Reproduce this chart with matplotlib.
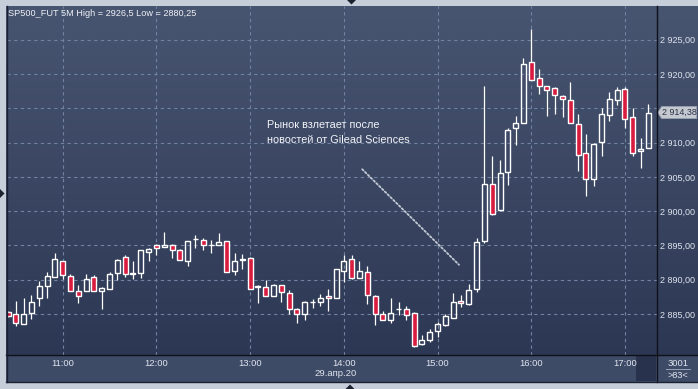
import numpy as np
import pandas as pd
import matplotlib
matplotlib.use("Agg")
import matplotlib.pyplot as plt
from matplotlib.patches import Rectangle, Polygon
from matplotlib.colors import LinearSegmentedColormap
from matplotlib.ticker import FuncFormatter
from matplotlib.transforms import blended_transform_factory

plt.rcParams['font.family'] = ['Liberation Sans', 'DejaVu Sans']

# ---------------- data ----------------
times = pd.date_range("2020-04-29 10:25", periods=83, freq="5min").strftime("%H:%M").tolist()

opens = [2885.3, 2884.95, 2883.5, 2885.1, 2887.4, 2889.1, 2890.4, 2892.7, 2890.6, 2888.4,
         2888.4, 2890.4, 2888.3, 2888.7, 2891.0, 2893.3, 2890.85, 2891.0, 2894.0, 2895.1,
         2894.8, 2895.1, 2894.4, 2892.7, 2895.9, 2895.8, 2895.0, 2895.1, 2895.6, 2891.3,
         2892.9, 2893.2, 2888.9, 2889.0, 2887.6, 2889.2, 2888.0, 2885.8, 2884.95, 2886.7,
         2886.7, 2887.65, 2887.3, 2891.3, 2893.1, 2890.3, 2891.2, 2887.7, 2884.95, 2884.2,
         2885.7, 2885.8, 2885.2, 2880.6, 2881.25, 2882.5, 2883.4, 2884.4, 2886.85, 2886.45,
         2888.65, 2895.6, 2903.9, 2900.15, 2905.75, 2912.1, 2912.9, 2921.8, 2919.35, 2918.2,
         2917.9, 2916.85, 2916.2, 2912.75, 2908.5, 2904.75, 2910.15, 2914.05, 2916.15, 2917.75,
         2913.8, 2908.8, 2909.25]
highs = [2885.5, 2886.9, 2887.4, 2887.75, 2889.8, 2891.1, 2893.9, 2892.8, 2890.9, 2889.2,
         2890.9, 2890.75, 2888.9, 2891.1, 2893.1, 2893.65, 2892.8, 2894.4, 2894.6, 2895.2,
         2896.9, 2895.2, 2894.5, 2895.7, 2896.6, 2896.1, 2895.8, 2896.8, 2895.7, 2893.9,
         2893.7, 2893.3, 2889.2, 2890.0, 2889.45, 2889.2, 2888.5, 2885.9, 2886.9, 2887.2,
         2887.9, 2888.7, 2891.5, 2893.6, 2893.6, 2892.8, 2892.0, 2887.8, 2885.5, 2887.4,
         2886.7, 2886.2, 2885.3, 2881.9, 2882.8, 2883.9, 2885.0, 2888.05, 2887.8, 2889.4,
         2896.1, 2918.2, 2908.1, 2907.5, 2912.2, 2913.9, 2922.3, 2926.5, 2920.8, 2918.3,
         2918.05, 2916.9, 2918.85, 2914.1, 2911.2, 2909.9, 2915.0, 2917.4, 2918.05, 2918.05,
         2915.0, 2910.6, 2915.6]
lows = [2884.6, 2883.2, 2883.5, 2884.3, 2886.2, 2887.4, 2890.4, 2890.1, 2888.3, 2886.6,
        2888.4, 2888.3, 2885.8, 2888.7, 2890.0, 2890.4, 2890.1, 2890.3, 2892.8, 2893.65,
        2894.8, 2893.2, 2892.9, 2892.0, 2894.7, 2894.4, 2893.9, 2895.1, 2891.2, 2890.65,
        2891.5, 2888.7, 2886.55, 2887.6, 2887.6, 2886.8, 2884.95, 2883.65, 2884.2, 2885.9,
        2886.2, 2885.5, 2887.3, 2889.7, 2890.1, 2890.3, 2886.4, 2883.36, 2884.1, 2883.65,
        2884.9, 2884.2, 2880.25, 2880.5, 2880.9, 2881.7, 2883.3, 2884.4, 2886.1, 2886.3,
        2888.15, 2895.4, 2899.5, 2900.1, 2903.8, 2909.65, 2912.9, 2919.1, 2917.1, 2913.9,
        2914.1, 2913.75, 2912.8, 2905.85, 2902.2, 2903.65, 2908.05, 2913.15, 2915.45, 2912.1,
        2908.0, 2906.35, 2909.25]
closes = [2884.7, 2883.65, 2884.95, 2886.7, 2889.15, 2890.6, 2893.0, 2890.75, 2888.4, 2887.6,
          2890.1, 2888.3, 2888.8, 2890.9, 2892.9, 2890.9, 2890.95, 2894.3, 2894.5, 2894.7,
          2895.1, 2894.4, 2892.9, 2895.6, 2896.0, 2895.1, 2895.1, 2895.5, 2891.2, 2892.7,
          2893.0, 2888.7, 2889.1, 2887.7, 2889.3, 2888.2, 2885.8, 2884.95, 2886.8, 2886.8,
          2887.4, 2887.4, 2891.5, 2892.8, 2890.2, 2891.3, 2887.85, 2884.95, 2884.2, 2885.2,
          2885.8, 2884.9, 2880.4, 2881.2, 2882.45, 2883.6, 2884.65, 2886.75, 2886.6, 2888.45,
          2895.5, 2903.9, 2899.6, 2905.5, 2911.9, 2912.9, 2921.5, 2919.2, 2918.3, 2917.65,
          2917.0, 2916.3, 2912.9, 2908.25, 2904.75, 2909.85, 2914.1, 2916.3, 2917.65, 2913.5,
          2908.55, 2909.1, 2914.38]

hour_labels = ["11:00", "12:00", "13:00", "14:00", "15:00", "16:00", "17:00"]
price_ticks = [2885, 2890, 2895, 2900, 2905, 2910, 2915, 2920, 2925]
title_text = "SP500_FUT 5M High = 2926,5 Low = 2880,25"
note_lines = ["Рынок взлетает после", "новостей от Gilead Sciences"]
date_label = "29.апр.20"
bars_total = "3001"
bars_visible = ">83<"

# ---------------- layout ----------------
W, H = 698, 389
fig = plt.figure(figsize=(W / 100, H / 100), dpi=100)
fig.patch.set_facecolor('#c6ced9')


def px_rect(x0, y0, x1, y1):
    return [x0 / W, 1 - y1 / H, (x1 - x0) / W, (y1 - y0) / H]


def fmt_price(v):
    return f"{v:,.2f}".replace(",", " ").replace(".", ",")


# background layer (pixel coords)
bg = fig.add_axes([0, 0, 1, 1], zorder=0)
bg.set_xlim(0, W)
bg.set_ylim(H, 0)
bg.axis('off')
cmap = LinearSegmentedColormap.from_list('g', ['#485571', '#2a3551'])
grad = np.linspace(0, 1, 256)[:, None]
bg.imshow(grad, cmap=cmap, extent=(6, W, 382, 6), aspect='auto', interpolation='bilinear')
bg.add_patch(Rectangle((6, 355), W - 6, 26.5, facecolor='#3e4b67', edgecolor='none'))
bg.add_patch(Rectangle((636, 356), 19.5, 25, facecolor='#28324c', edgecolor='none'))

# main axes
ax = fig.add_axes(px_rect(7, 6, 656.7, 355), zorder=1)
ax.patch.set_alpha(0)
for s in ax.spines.values():
    s.set_visible(False)

x = np.arange(len(times))
ax.set_xlim(-0.13, 83.06)
ax.set_ylim(2879.03, 2929.92)

# grid
grid_kw = dict(color='#7282a3', lw=0.8, linestyle=(0, (3, 3)), zorder=1)
for p in price_ticks:
    ax.axhline(p, **grid_kw)
hour_idx = [times.index(h) for h in hour_labels]
for i in hour_idx:
    ax.axvline(i, **grid_kw)

# candles
red = '#d81b3e'
bw = 0.64
for i, (o, h, l, c) in enumerate(zip(opens, highs, lows, closes)):
    top, bot = max(o, c), min(o, c)
    ax.plot([i, i], [top, h], color='white', lw=0.9, zorder=2, solid_capstyle='butt')
    ax.plot([i, i], [l, bot], color='white', lw=0.9, zorder=2, solid_capstyle='butt')
    fc = red if c < o else 'none'
    ax.add_patch(Rectangle((i - bw / 2, bot), bw, max(top - bot, 0.05),
                           facecolor=fc, edgecolor='white', lw=1.0, zorder=3))

# axes ticks
ax.yaxis.tick_right()
ax.set_yticks(price_ticks)
ax.yaxis.set_major_formatter(FuncFormatter(lambda v, p: fmt_price(v)))
ax.tick_params(axis='y', length=0, pad=2.4, labelsize=6.5, labelcolor='#dfe4ee')
ax.set_xticks(hour_idx)
ax.set_xticklabels(hour_labels)
ax.tick_params(axis='x', length=0, pad=3.0, labelsize=6.8, labelcolor='#dfe4ee')
for lbl in ax.get_yticklabels():
    if lbl.get_text() == fmt_price(2915):
        lbl.set_visible(False)

# last price tag
last = closes[-1]
tr = blended_transform_factory(ax.transAxes, ax.transData)
axw = 649.7
pxp = 1.0 / 6.8375
tag = Polygon([(1.0 + 1.0 / axw, last), (1.0 + 5.0 / axw, last + 6.0 * pxp),
               (1.0 + 40.0 / axw, last + 6.0 * pxp), (1.0 + 40.0 / axw, last - 6.0 * pxp),
               (1.0 + 5.0 / axw, last - 6.0 * pxp)],
              closed=True, transform=tr, facecolor='#c3c8d1', edgecolor='#9aa1ad',
              lw=0.6, clip_on=False, zorder=5)
ax.add_patch(tag)
ax.text(1.0 + 22.5 / axw, last, fmt_price(last),
        transform=tr, ha='center', va='center', fontsize=6.4, color='#2b3140',
        clip_on=False, zorder=6)

# annotation
for k, line in enumerate(note_lines):
    fig.text(267 / W, 1 - (125.5 + 15 * k) / H, line, ha='left', va='center',
             fontsize=7.8, color='#f2f4f8')
ax.annotate("", xy=(58.0, 2891.9), xytext=(45.1, 2906.4),
            arrowprops=dict(arrowstyle='-', color='#c3c9d4', lw=1.3,
                            linestyle=(0, (1, 1.2))), zorder=4)

# title
fig.text(8 / W, 1 - 14 / H, title_text, ha='left', va='center', fontsize=6.6,
         color='#eef1f6')

# overlay decorations (pixel coords)
ov = fig.add_axes([0, 0, 1, 1], zorder=2)
ov.set_xlim(0, W)
ov.set_ylim(H, 0)
ov.axis('off')
ov.plot([656.7, 656.7], [6, 382], color='#0e1118', lw=1.0)
ov.plot([6, W], [355, 355], color='#0e1118', lw=1.0)
ov.plot([6.5, 6.5], [6, 382], color='#1b2131', lw=1.0)
ov.plot([6, W], [381.8, 381.8], color='#1b2131', lw=1.0)
ov.plot([666, 690], [369, 369], color='#9aa3b5', lw=0.7)
ov.add_patch(Polygon([(347, 0), (356, 0), (351.5, 4.5)], closed=True, facecolor='#1c2230'))
ov.add_patch(Polygon([(345.5, 389), (354.5, 389), (350, 384.5)], closed=True, facecolor='#1c2230'))
ov.add_patch(Polygon([(0, 189), (0, 198), (4.5, 193.5)], closed=True, facecolor='#1c2230'))
ov.text(336, 374, date_label, ha='center', va='center', fontsize=6.8, color='#dfe4ee')
ov.text(678, 363, bars_total, ha='center', va='center', fontsize=6.8, color='#dfe4ee')
ov.text(678, 375.5, bars_visible, ha='center', va='center', fontsize=6.6, color='#dfe4ee')

fig.savefig("out.png", dpi=100, facecolor=fig.get_facecolor())
